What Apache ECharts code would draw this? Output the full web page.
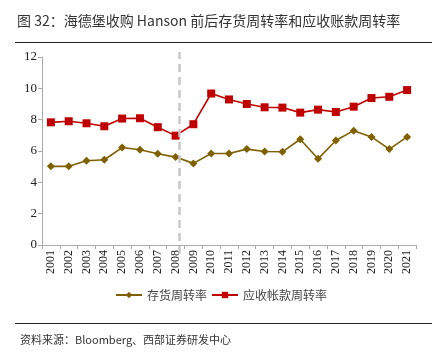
<!DOCTYPE html>
<html>
<head>
<meta charset="utf-8">
<script src="https://cdn.jsdelivr.net/npm/echarts@6/dist/echarts.min.js"></script>
<style>
  html, body { margin: 0; padding: 0; background: #fff; }
  #chart { width: 442px; height: 354px; }
</style>
</head>
<body>
<div id="chart"></div>
<script>
const years = ['2001', '2002', '2003', '2004', '2005', '2006', '2007', '2008', '2009', '2010', '2011',
  '2012', '2013', '2014', '2015', '2016', '2017', '2018', '2019', '2020', '2021'];
const inventoryTurnover = [5.02, 5.02, 5.38, 5.44, 6.22, 6.08, 5.82, 5.61, 5.21, 5.84, 5.84,
  6.12, 5.97, 5.95, 6.75, 5.50, 6.67, 7.30, 6.90, 6.12, 6.90];
const receivableTurnover = [7.83, 7.90, 7.77, 7.58, 8.07, 8.09, 7.52, 6.98, 7.71, 9.67, 9.29,
  9.00, 8.79, 8.77, 8.45, 8.64, 8.49, 8.83, 9.38, 9.46, 9.89];
const yTicks = [0, 2, 4, 6, 8, 10, 12];
// Hanson acquisition marker, in category units (0..21)
const acquisitionPos = 7.7;

const chart = echarts.init(document.getElementById('chart'));
const serif = "'Times New Roman', 'Liberation Serif', serif";
const cjk = 'Noto Sans CJK SC';

chart.setOption({
  animation: false,
  title: [
    {
      text: '图 32：海德堡收购 Hanson 前后存货周转率和应收账款周转率',
      left: 12, top: 9,
      textStyle: { fontFamily: cjk, fontSize: 14, fontWeight: 'normal', color: '#333' },
    },
    {
      text: '资料来源：Bloomberg、西部证券研发中心',
      left: 15, top: 329,
      textStyle: { fontFamily: cjk, fontSize: 11, fontWeight: 'normal', color: '#333' },
    },
  ],
  graphic: [
    { type: 'line', shape: { x1: 15, y1: 42.5, x2: 432, y2: 42.5 }, style: { stroke: '#222', lineWidth: 1 } },
    { type: 'line', shape: { x1: 15, y1: 323.5, x2: 432, y2: 323.5 }, style: { stroke: '#222', lineWidth: 1 } },
  ],
  legend: {
    bottom: 48,
    left: 'center',
    itemWidth: 26,
    itemHeight: 8,
    itemGap: 4,
    textStyle: { fontFamily: cjk, fontSize: 12, color: '#444' },
    data: ['存货周转率', '应收帐款周转率'],
  },
  grid: [
    { left: 42, right: 26, top: 57, bottom: 109 },
    { left: 42, right: 26, top: 52, bottom: 100 },
  ],
  xAxis: [
    {
      type: 'category',
      data: years,
      gridIndex: 0,
      boundaryGap: true,
      axisLine: { lineStyle: { color: '#aaa' } },
      axisTick: { show: true, length: 4, lineStyle: { color: '#aaa' } },
      axisLabel: { rotate: 90, interval: 0, fontFamily: serif, fontSize: 12, color: '#222', margin: 5 },
    },
    { type: 'value', gridIndex: 1, min: 0, max: 21, show: false },
  ],
  yAxis: [
    {
      type: 'value',
      gridIndex: 0,
      min: yTicks[0], max: yTicks[yTicks.length - 1], interval: 2,
      splitLine: { show: false },
      axisLine: { show: true, lineStyle: { color: '#aaa' } },
      axisTick: { show: true, length: 4, lineStyle: { color: '#aaa' } },
      axisLabel: { fontFamily: serif, fontSize: 13, color: '#222', margin: 5 },
    },
    { type: 'value', gridIndex: 1, min: 0, max: 1, show: false },
  ],
  series: [
    {
      name: '存货周转率',
      type: 'line',
      data: inventoryTurnover,
      symbol: 'diamond',
      symbolSize: 8,
      color: '#7f6000',
      lineStyle: { width: 1.6, color: '#7f6000' },
      itemStyle: { color: '#7f6000' },
      z: 3,
    },
    {
      name: '应收帐款周转率',
      type: 'line',
      data: receivableTurnover,
      symbol: 'rect',
      symbolSize: 8,
      color: '#c00000',
      lineStyle: { width: 1.6, color: '#c00000' },
      itemStyle: { color: '#c00000' },
      z: 3,
    },
    {
      type: 'line',
      xAxisIndex: 1,
      yAxisIndex: 1,
      data: [],
      silent: true,
      z: 1,
      markLine: {
        symbol: 'none',
        silent: true,
        label: { show: false },
        lineStyle: { color: '#c8c8c8', width: 2.5, type: [8, 5] },
        data: [{ xAxis: acquisitionPos }],
      },
    },
  ],
});
</script>
</body>
</html>
